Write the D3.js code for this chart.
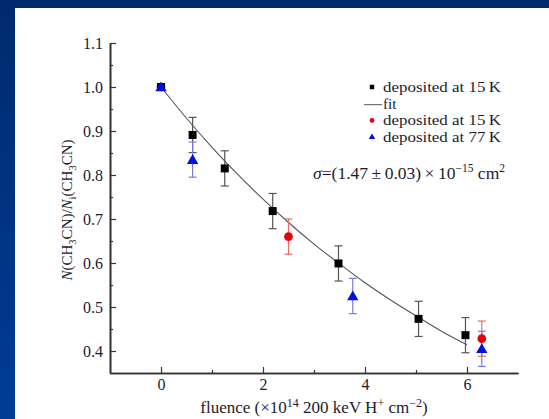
<!DOCTYPE html>
<html><head><meta charset="utf-8">
<script src="https://cdn.jsdelivr.net/npm/d3@7/dist/d3.min.js"></script>
<style>
html,body{margin:0;padding:0;background:#fff;}
svg{display:block;}
text{font-family:"Liberation Serif","Times New Roman",serif;}
</style></head>
<body>
<svg id="chart" width="549" height="419"></svg>
<script>
// ---- data ----
const blackX = [0, 0.62, 1.25, 2.19, 3.48, 5.05, 5.97];
const blackY = [1.0, 0.891, 0.815, 0.718, 0.599, 0.473, 0.436];
const blackErr = [0.0, 0.04, 0.04, 0.04, 0.04, 0.04, 0.04];
const redX = [0, 2.5, 6.29];
const redY = [1.0, 0.66, 0.428];
const redErr = [0.0, 0.04, 0.04];
const blueX = [0, 0.62, 3.76, 6.29];
const blueY = [1.0, 0.835, 0.525, 0.405];
const blueErr = [0.0, 0.04, 0.04, 0.04];
const fitX = [0, 0.5, 1, 1.5, 2, 2.5, 3, 3.5, 4, 4.5, 5, 5.5, 6];
const fitY = [1.0, 0.929, 0.863, 0.802, 0.745, 0.692, 0.643, 0.598, 0.555, 0.516, 0.480, 0.445, 0.414];
const xTicks = [0, 2, 4, 6];
const xMinor = [1, 3, 5];
const yTicks = [0.4, 0.5, 0.6, 0.7, 0.8, 0.9, 1.0, 1.1];
const yMinor = [0.35, 0.45, 0.55, 0.65, 0.75, 0.85, 0.95, 1.05];
const legendLabels = ["deposited at 15\u2009K", "fit", "deposited at 15\u2009K", "deposited at 77\u2009K"];

(function(){
const svg = d3.select("#chart");
const W = 549, H = 419;
const txt = "#1c1c2c";

// background
const defs = svg.append("defs");
const g1 = defs.append("linearGradient").attr("id","bg").attr("x1",0).attr("y1",0).attr("x2",0).attr("y2",1);
g1.append("stop").attr("offset","0%").attr("stop-color","#002a6e");
g1.append("stop").attr("offset","100%").attr("stop-color","#003c96");
svg.append("rect").attr("width",W).attr("height",H).attr("fill","url(#bg)");
svg.append("rect").attr("x",15).attr("y",8).attr("width",W-15).attr("height",H-8).attr("fill","#fff");

const mL = 110, mR = 518, mT = 43, mB = 373;
const x = d3.scaleLinear().domain([-1, 7]).range([mL, mR]);
const y = d3.scaleLinear().domain([0.35, 1.1]).range([mB, mT]);

const axisColor = "#333";
const xAxis = svg.append("g").attr("transform",`translate(0,${mB})`)
  .call(d3.axisBottom(x).tickValues(xTicks).tickFormat(d3.format("d")).tickSizeInner(-6).tickSizeOuter(0).tickPadding(6));
const xAxisMinor = svg.append("g").attr("transform",`translate(0,${mB})`)
  .call(d3.axisBottom(x).tickValues(xMinor).tickFormat("").tickSizeInner(-3).tickSizeOuter(0));
const yAxis = svg.append("g").attr("transform",`translate(${mL},0)`)
  .call(d3.axisLeft(y).tickValues(yTicks).tickFormat(d3.format(".1f")).tickSizeInner(-6).tickSizeOuter(0).tickPadding(7));
const yAxisMinor = svg.append("g").attr("transform",`translate(${mL},0)`)
  .call(d3.axisLeft(y).tickValues(yMinor).tickFormat("").tickSizeInner(-3).tickSizeOuter(0));
[xAxis,xAxisMinor,yAxis,yAxisMinor].forEach(a=>{
  a.select(".domain").attr("stroke",axisColor).attr("stroke-width",1.6);
  a.selectAll(".tick line").attr("stroke",axisColor).attr("stroke-width",1.2);
  a.selectAll("text").attr("font-family","Liberation Serif").attr("font-size",16).attr("fill",txt);
});
yAxis.selectAll("text").attr("dy","0.35em");

// fit line
const line = d3.line().x((d,i)=>x(fitX[i])).y((d,i)=>y(fitY[i])).curve(d3.curveMonotoneX);
svg.append("path").datum(fitY).attr("d",line).attr("fill","none").attr("stroke","#555").attr("stroke-width",1.1);

// error bars
function errBars(xs, ys, es, color){
  const g = svg.append("g").attr("stroke",color).attr("stroke-width",1.2);
  xs.forEach((xv,i)=>{
    if(es[i] <= 0) return;
    const cx = x(xv), y0 = y(ys[i]-es[i]), y1 = y(ys[i]+es[i]);
    g.append("line").attr("x1",cx).attr("x2",cx).attr("y1",y0).attr("y2",y1);
    g.append("line").attr("x1",cx-4).attr("x2",cx+4).attr("y1",y0).attr("y2",y0);
    g.append("line").attr("x1",cx-4).attr("x2",cx+4).attr("y1",y1).attr("y2",y1);
  });
}
errBars(blackX, blackY, blackErr, "#555");
errBars(redX, redY, redErr, "#e86a6a");
errBars(blueX, blueY, blueErr, "#7a7ae8");

const sq = d3.symbol().type(d3.symbolSquare).size(64);
const circ = d3.symbol().type(d3.symbolCircle).size(60);
const tri = d3.symbol().type(d3.symbolTriangle).size(56);

svg.append("g").selectAll("path").data(redY).join("path")
  .attr("d",circ).attr("fill","#e8000b")
  .attr("transform",(d,i)=>`translate(${x(redX[i])},${y(d)})`);
svg.append("g").selectAll("path").data(blackY).join("path")
  .attr("d",sq).attr("fill","#000")
  .attr("transform",(d,i)=>`translate(${x(blackX[i])},${y(d)})`);
svg.append("g").selectAll("path").data(blueY).join("path")
  .attr("d",tri).attr("fill","#0010e0")
  .attr("transform",(d,i)=>`translate(${x(blueX[i])},${y(d)+1})`);

// legend
const lx = 372, ly0 = 87, lstep = [0, 16.7, 33.4, 50.1];
legendLabels.forEach((t,i)=>{
  const te = svg.append("text").attr("font-size",15).attr("fill",txt)
    .attr("x",lx+11).attr("y",ly0+lstep[i]+5).text(t);
  if(t.length > 4) te.attr("textLength",118).attr("lengthAdjust","spacingAndGlyphs");
});
svg.append("path").attr("d",d3.symbol().type(d3.symbolSquare).size(20)).attr("fill","#000").attr("transform",`translate(${lx},${ly0})`);
svg.append("line").attr("x1",lx-8).attr("x2",lx+10).attr("y1",ly0+lstep[1]+1).attr("y2",ly0+lstep[1]+1).attr("stroke","#555").attr("stroke-width",1);
svg.append("path").attr("d",d3.symbol().type(d3.symbolCircle).size(18)).attr("fill","#e8000b").attr("transform",`translate(${lx},${ly0+lstep[2]})`);
svg.append("path").attr("d",d3.symbol().type(d3.symbolTriangle).size(18)).attr("fill","#0010e0").attr("transform",`translate(${lx},${ly0+lstep[3]})`);

// sigma annotation
const st = svg.append("text").attr("x",505).attr("y",179).attr("text-anchor","end").attr("font-size",17.5).attr("fill",txt);
st.append("tspan").attr("font-style","italic").text("\u03c3");
st.append("tspan").text("=(1.47\u2009\u00b1\u20090.03)\u2009\u00d7\u200910");
st.append("tspan").attr("font-size",11.5).attr("dy",-7).text("\u221215");
st.append("tspan").attr("dy",7).text(" cm");
st.append("tspan").attr("font-size",11.5).attr("dy",-7).text("2");

// x label
const xl = svg.append("text").attr("x",314).attr("y",413).attr("text-anchor","middle").attr("font-size",17).attr("fill",txt);
xl.append("tspan").text("fluence (\u00d710");
xl.append("tspan").attr("font-size",12).attr("dy",-6).text("14");
xl.append("tspan").attr("dy",6).text(" 200 keV H");
xl.append("tspan").attr("font-size",12).attr("dy",-6).text("+");
xl.append("tspan").attr("dy",6).text(" cm");
xl.append("tspan").attr("font-size",12).attr("dy",-6).text("\u22122");
xl.append("tspan").attr("dy",6).text(")");

// y label
const yl = svg.append("text").attr("transform","translate(72,210) rotate(-90)").attr("text-anchor","middle").attr("font-size",15).attr("fill",txt);
yl.append("tspan").attr("font-style","italic").text("N");
yl.append("tspan").text("(CH");
yl.append("tspan").attr("font-size",10.5).attr("dy",4).text("3");
yl.append("tspan").attr("dy",-4).text("CN)/");
yl.append("tspan").attr("font-style","italic").text("N");
yl.append("tspan").attr("font-size",10.5).attr("dy",4).text("i");
yl.append("tspan").attr("dy",-4).text("(CH");
yl.append("tspan").attr("font-size",10.5).attr("dy",4).text("3");
yl.append("tspan").attr("dy",-4).text("CN)");
})();
</script>
</body></html>
